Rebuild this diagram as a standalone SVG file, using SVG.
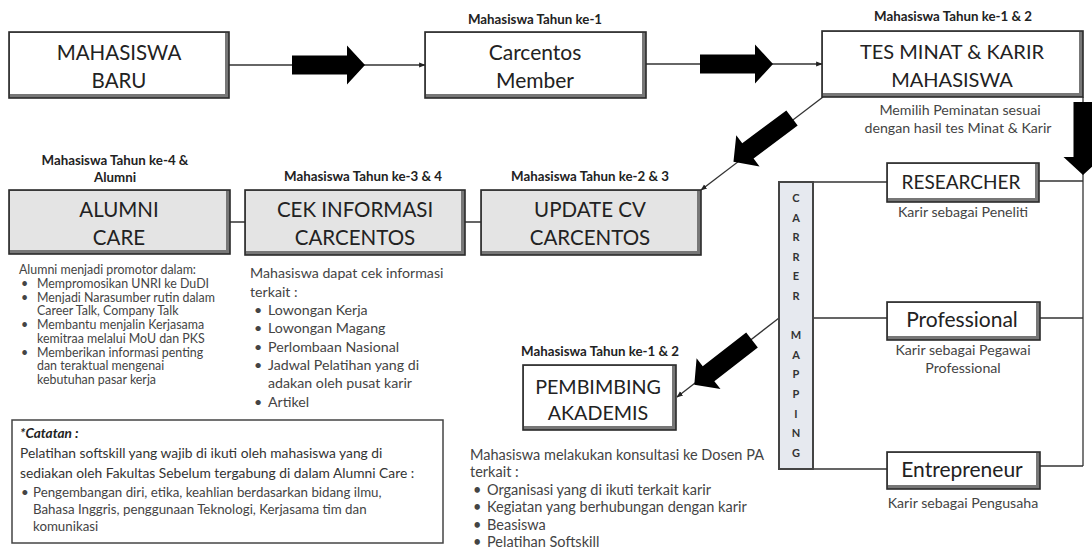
<svg xmlns="http://www.w3.org/2000/svg" xmlns:xlink="http://www.w3.org/1999/xlink" width="1092" height="549" viewBox="0 0 1092 549">
<style>
text{font-family:Lato,"Liberation Sans",sans-serif;}
.bt{font-size:20.5px;fill:#222;text-anchor:middle;}
.lb{font-size:13.3px;font-weight:bold;fill:#222;text-anchor:middle;}
.sub{font-size:14.2px;fill:#444;text-anchor:middle;}
.ds{fill:#444;}
.ln{stroke:#333;stroke-width:1.3;fill:none;}
.bev{fill:#777;stroke:#2a2a2a;stroke-width:1.6;}
.wf{fill:#fff;}
.gf{fill:#e4e4e4;}
.cm{font-size:11px;font-weight:bold;fill:#333;text-anchor:middle;}
</style>
<defs>
<marker id="ah" viewBox="0 0 10 10" refX="9" refY="5" markerWidth="5" markerHeight="5" orient="auto"><path d="M0,1 L10,5 L0,9 Z" fill="#222"/></marker>
<path id="blk" d="M0,-9.5 L55,-9.5 L55,-19.5 L73,0 L55,19.5 L55,9.5 L0,9.5 Z" fill="#000"/>
</defs>
<rect width="1092" height="549" fill="#fff"/>
<g id="connectors">
<path class="ln" d="M229,65 L425,65" marker-end="url(#ah)"/>
<path class="ln" d="M646,64 L822,64" marker-end="url(#ah)"/>
<path class="ln" d="M823,97 L701,190" marker-end="url(#ah)"/>
<path class="ln" d="M779,318 L677,397" marker-end="url(#ah)"/>
<path class="ln" d="M1083,97 L1083,466"/>
<path class="ln" d="M1039,181 L1083,181 M1039,318 L1083,318 M1039,466 L1083,466"/>
<path class="ln" d="M813,182 L887,182 M813,318 L887,318 M813,469 L887,469"/>
<path class="ln" d="M230,222 L245,222 M465,222 L481,222"/>
<use xlink:href="#blk" transform="translate(292,65)"/>
<use xlink:href="#blk" transform="translate(700,64)"/>
<use xlink:href="#blk" transform="translate(1083,102) rotate(90)"/>
<use xlink:href="#blk" transform="translate(792,118) rotate(143.3)"/>
<use xlink:href="#blk" transform="translate(752,340) rotate(142.2)"/>
</g>
<g id="mahasiswa-baru">
<rect class="bev" x="9" y="32" width="220" height="66"/>
<rect class="wf" x="10" y="33" width="215" height="61"/>
<text class="bt" x="119" y="60" font-size="20">MAHASISWA</text>
<text class="bt" x="119" y="88" font-size="20">BARU</text>
</g>
<g id="carcentos-member">
<text class="lb" x="535" y="24">Mahasiswa Tahun ke-1</text>
<rect class="bev" x="425" y="32" width="221" height="66"/>
<rect class="wf" x="426" y="33" width="216" height="61"/>
<text class="bt" x="535" y="60" style="font-size:21px">Carcentos</text>
<text class="bt" x="535" y="88" style="font-size:21px">Member</text>
</g>
<g id="tes-minat">
<text class="lb" x="953" y="21">Mahasiswa Tahun ke-1 &amp; 2</text>
<rect class="bev" x="822" y="31" width="261" height="66"/>
<rect class="wf" x="823" y="32" width="256" height="61"/>
<text class="bt" x="952" y="59" style="font-size:20px">TES MINAT &amp; KARIR</text>
<text class="bt" x="952" y="87" style="font-size:20px">MAHASISWA</text>
<text class="sub" x="960" y="115">Memilih Peminatan sesuai</text>
<text class="sub" x="958" y="133">dengan hasil tes Minat &amp; Karir</text>
</g>
<g id="update-cv">
<text class="lb" x="590" y="181">Mahasiswa Tahun ke-2 &amp; 3</text>
<rect class="bev" x="481" y="190" width="220" height="65"/>
<rect class="gf" x="482" y="191" width="215" height="60"/>
<text class="bt" x="590" y="217">UPDATE CV</text>
<text class="bt" x="590" y="245">CARCENTOS</text>
</g>
<g id="cek-informasi">
<text class="lb" x="363" y="181">Mahasiswa Tahun ke-3 &amp; 4</text>
<rect class="bev" x="245" y="190" width="220" height="65"/>
<rect class="gf" x="246" y="191" width="215" height="60"/>
<text class="bt" x="355" y="217">CEK INFORMASI</text>
<text class="bt" x="355" y="245">CARCENTOS</text>
<g class="ds" font-size="14.2">
<text x="250" y="278">Mahasiswa dapat cek informasi</text>
<text x="250" y="297">terkait :</text>
<text x="254" y="315">•</text><text x="268" y="315">Lowongan Kerja</text>
<text x="254" y="333">•</text><text x="268" y="333">Lowongan Magang</text>
<text x="254" y="352">•</text><text x="268" y="352">Perlombaan Nasional</text>
<text x="254" y="370">•</text><text x="268" y="370">Jadwal Pelatihan yang di</text>
<text x="268" y="388">adakan oleh pusat karir</text>
<text x="254" y="407">•</text><text x="268" y="407">Artikel</text>
</g>
</g>
<g id="alumni-care">
<text class="lb" x="115" y="165">Mahasiswa Tahun ke-4 &amp;</text>
<text class="lb" x="115" y="182">Alumni</text>
<rect class="bev" x="9" y="190" width="221" height="64"/>
<rect class="gf" x="10" y="191" width="216" height="59"/>
<text class="bt" x="119" y="217">ALUMNI</text>
<text class="bt" x="119" y="245">CARE</text>
<g class="ds" font-size="12.4">
<text x="19" y="274">Alumni menjadi promotor dalam:</text>
<text x="21" y="288">•</text><text x="37" y="288">Mempromosikan UNRI ke DuDI</text>
<text x="21" y="302">•</text><text x="37" y="302">Menjadi Narasumber rutin dalam</text>
<text x="37" y="315">Career Talk, Company Talk</text>
<text x="21" y="329">•</text><text x="37" y="329">Membantu menjalin Kerjasama</text>
<text x="37" y="343">kemitraa melalui MoU dan PKS</text>
<text x="21" y="357">•</text><text x="37" y="357">Memberikan informasi penting</text>
<text x="37" y="370">dan teraktual mengenai</text>
<text x="37" y="384">kebutuhan pasar kerja</text>
</g>
</g>
<g id="catatan">
<rect x="12" y="420" width="431" height="123" fill="#fff" stroke="#444" stroke-width="1.5"/>
<text x="20" y="438" font-size="13.6" font-weight="bold" font-style="italic" fill="#222">*Catatan :</text>
<text x="20" y="458" font-size="13.8" fill="#333">Pelatihan softskill yang wajib di ikuti oleh mahasiswa yang di</text>
<text x="20" y="478" font-size="13.8" fill="#333">sediakan oleh Fakultas Sebelum tergabung di dalam Alumni Care :</text>
<g class="ds" font-size="13.3">
<text x="21" y="497">•</text><text x="33" y="497">Pengembangan diri, etika, keahlian berdasarkan bidang ilmu,</text>
<text x="33" y="514">Bahasa Inggris, penggunaan  Teknologi, Kerjasama tim dan</text>
<text x="33" y="531">komunikasi</text>
</g>
</g>
<g id="pembimbing">
<text class="lb" x="600" y="356">Mahasiswa Tahun ke-1 &amp; 2</text>
<rect class="bev" x="523" y="365" width="153" height="65"/>
<rect class="wf" x="524" y="366" width="148" height="60"/>
<text class="bt" x="598" y="394" style="font-size:19.7px">PEMBIMBING</text>
<text class="bt" x="598" y="420" style="font-size:19.7px">AKADEMIS</text>
<g class="ds" font-size="14.5">
<text x="470" y="460">Mahasiswa melakukan konsultasi ke Dosen PA</text>
<text x="470" y="477">terkait :</text>
<text x="473" y="495">•</text><text x="487" y="495">Organisasi yang di ikuti terkait karir</text>
<text x="473" y="512">•</text><text x="487" y="512">Kegiatan yang berhubungan dengan karir</text>
<text x="473" y="530">•</text><text x="487" y="530">Beasiswa</text>
<text x="473" y="547">•</text><text x="487" y="547">Pelatihan Softskill</text>
</g>
</g>
<g id="carrer-mapping">
<rect x="779" y="182" width="34" height="287" fill="#e6e9ef" stroke="#444" stroke-width="2"/>
<text class="cm" x="796" y="202">C</text>
<text class="cm" x="796" y="222">A</text>
<text class="cm" x="796" y="241">R</text>
<text class="cm" x="796" y="261">R</text>
<text class="cm" x="796" y="280">E</text>
<text class="cm" x="796" y="300">R</text>
<text class="cm" x="796" y="339">M</text>
<text class="cm" x="796" y="359">A</text>
<text class="cm" x="796" y="378">P</text>
<text class="cm" x="796" y="398">P</text>
<text class="cm" x="796" y="418">I</text>
<text class="cm" x="796" y="437">N</text>
<text class="cm" x="796" y="457">G</text>
</g>
<g id="researcher">
<rect class="bev" x="887" y="163" width="152" height="39"/>
<rect class="wf" x="888" y="164" width="147" height="34"/>
<text class="bt" x="961" y="189" style="font-size:19px">RESEARCHER</text>
<text class="sub" x="963" y="217">Karir sebagai Peneliti</text>
</g>
<g id="professional">
<rect class="bev" x="887" y="302" width="153" height="38"/>
<rect class="wf" x="888" y="303" width="148" height="33"/>
<text class="bt" x="962" y="327" style="font-size:21px">Professional</text>
<text class="sub" x="963" y="355">Karir sebagai Pegawai</text>
<text class="sub" x="963" y="373">Professional</text>
</g>
<g id="entrepreneur">
<rect class="bev" x="887" y="452" width="153" height="37"/>
<rect class="wf" x="888" y="453" width="148" height="32"/>
<text class="bt" x="962" y="477" style="font-size:21px">Entrepreneur</text>
<text class="sub" x="963" y="508">Karir sebagai Pengusaha</text>
</g>
</svg>
